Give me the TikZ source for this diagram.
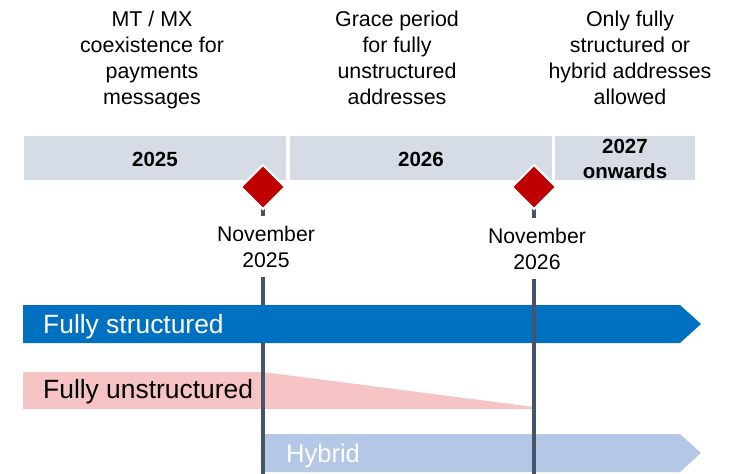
\documentclass[tikz,border=0pt]{standalone}
\usepackage{fontspec}
\setmainfont{Liberation Sans}
\usetikzlibrary{shapes.geometric}
\definecolor{yearbg}{HTML}{D6DCE5}
\definecolor{fsblue}{HTML}{0070C0}
\definecolor{fupink}{HTML}{F6C4C4}
\definecolor{hyblue}{HTML}{B4C7E7}
\definecolor{msred}{HTML}{C00000}
\definecolor{vline}{HTML}{44546A}
\begin{document}
\begin{tikzpicture}[x=1pt,y=-1pt,
  head/.style={align=center, anchor=base, inner sep=0, font=\fontsize{21.4}{26}\selectfont},
  yeartxt/.style={align=center, anchor=base, inner sep=0, font=\bfseries\fontsize{20.5}{25}\selectfont},
  yearbar/.style={fill=yearbg},
  milestone/.style={diamond, fill=msred, draw=white, line width=2pt, minimum width=45pt, minimum height=45pt, inner sep=0},
  datelab/.style={align=center, anchor=base, fill=white, inner xsep=2pt, inner ysep=10pt, font=\fontsize{21.2}{26}\selectfont},
  barlab/.style={anchor=base west, inner sep=0, font=\fontsize{26.4}{30}\selectfont},
  timeline/.style={draw=vline, line width=4.5pt}
]
\useasboundingbox (0,0) rectangle (740,474);

% header texts (base anchor = baseline of the last line)
\node[head] (h1) at (152,104) {MT / MX\\coexistence for\\payments\\messages};
\node[head] (h2) at (397,104) {Grace period\\for fully\\unstructured\\addresses};
\node[head] (h3) at (630,104) {Only fully\\structured or\\hybrid addresses\\allowed};

% year bars
\fill[yearbar] (24,136) rectangle (286,180);
\fill[yearbar] (290,136) rectangle (552,180);
\fill[yearbar] (555,136) rectangle (695,180);
\node[yeartxt] (y1) at (155,166) {2025};
\node[yeartxt] (y2) at (421,166) {2026};
\node[yeartxt] (y3) at (625,178) {2027\\onwards};

% milestone positions
\coordinate (m1) at (263,187);
\coordinate (m2) at (534,187);
\coordinate (b1) at (263,474);
\coordinate (b2) at (534,474);

% fully unstructured (tapering)
\fill[fupink] (23,372) -- (263,372) -- (534,407) -- (534,409) -- (23,409) -- cycle;
% hybrid arrow
\fill[hyblue] (265,434) -- (680,434) -- (701,453) -- (680,472) -- (265,472) -- cycle;

% first timeline (under the blue bar)
\draw[timeline] (m1) -- (b1);

% fully structured arrow
\fill[fsblue] (23,305) -- (680,305) -- (701,324) -- (680,343) -- (23,343) -- cycle;

% second timeline (over the bars)
\draw[timeline] (m2) -- (b2);

% bar labels
\node[barlab, text=white] (fs) at (43,333) {Fully structured};
\node[barlab, text=black] (fu) at (43,398) {Fully unstructured};
\node[barlab, text=white, font=\fontsize{25.5}{30}\selectfont] (hy) at (286,462) {Hybrid};

% date labels (base anchor = baseline of the last line)
\node[datelab] (n1) at (266,267) {November\\2025};
\node[datelab] (n2) at (537,269) {November\\2026};

% milestones
\node[milestone] (d1) at (m1) {};
\node[milestone] (d2) at (m2) {};
\end{tikzpicture}
\end{document}
